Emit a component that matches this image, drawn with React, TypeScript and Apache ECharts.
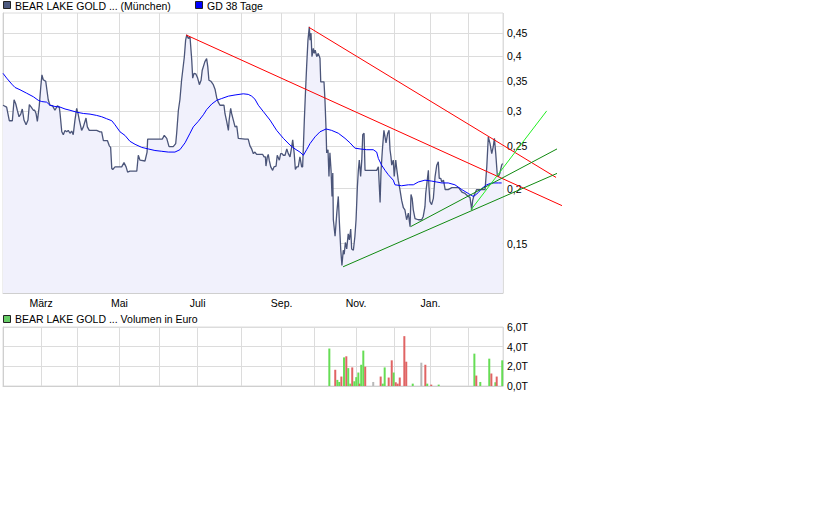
import React, { useEffect, useRef } from 'react';
import * as echarts from 'echarts';

const FONT = '"Liberation Sans", Arial, Helvetica, sans-serif';

// x axis: trading days of the period (0 .. 262)
const monthStarts = [0, 20, 39, 61, 82, 102, 125, 146, 163, 185, 205, 224, 244, 262];
const labelDays = [20, 61, 102, 146, 185, 224];
const labelNames = ['März', 'Mai', 'Juli', 'Sep.', 'Nov.', 'Jan.'];
const periodEnd = 262;
const trendEnd = 300; // trend lines are projected beyond the last day

// price axis ticks (log scale)
const priceTicks = [0.15, 0.2, 0.25, 0.3, 0.35, 0.4, 0.45];
const priceMin = 0.116;
const priceMax = 0.5;

// closing prices [day, EUR]
const price: [number, number][] = [
  [0, 0.309], [1.9, 0.306], [3.3, 0.285], [4.9, 0.285], [5.8, 0.318], [6.7, 0.311], [7.5, 0.301], [8.4, 0.291],
  [9.3, 0.295], [10.1, 0.303], [11.0, 0.286], [12.1, 0.279], [13.1, 0.286], [13.8, 0.31], [14.8, 0.306], [15.9, 0.301],
  [16.6, 0.301], [17.3, 0.296], [18.0, 0.284], [19.0, 0.308], [19.8, 0.34], [20.4, 0.362], [21.1, 0.353], [22.4, 0.35],
  [23.7, 0.318], [24.6, 0.309], [26.0, 0.308], [27.2, 0.301], [28.5, 0.308], [29.5, 0.306], [29.9, 0.296], [30.8, 0.269],
  [31.6, 0.265], [32.5, 0.271], [33.4, 0.269], [34.2, 0.271], [35.1, 0.267], [36.0, 0.27], [36.8, 0.265], [37.7, 0.286],
  [38.6, 0.304], [39.3, 0.296], [40.0, 0.286], [41.2, 0.271], [42.1, 0.276], [43.5, 0.289], [44.2, 0.276], [45.2, 0.271],
  [49.1, 0.271], [50.8, 0.269], [51.7, 0.269], [52.6, 0.257], [54.7, 0.257], [55.7, 0.25], [56.4, 0.248], [57.0, 0.222],
  [57.5, 0.221], [58.7, 0.224], [60.4, 0.224], [62.2, 0.224], [63.4, 0.229], [64.5, 0.224], [65.3, 0.218], [66.5, 0.219],
  [70.1, 0.219], [70.9, 0.238], [71.8, 0.232], [74.4, 0.231], [75.5, 0.242], [75.8, 0.259], [81.4, 0.259], [83.5, 0.259],
  [84.5, 0.264], [85.8, 0.26], [87.0, 0.249], [89.2, 0.249], [90.5, 0.253], [91.0, 0.267], [91.9, 0.301], [92.7, 0.318],
  [93.6, 0.353], [95.0, 0.397], [95.7, 0.434], [96.3, 0.446], [97.1, 0.438], [98.0, 0.441], [98.9, 0.391], [99.4, 0.356],
  [100.1, 0.365], [101.0, 0.364], [102.0, 0.356], [102.9, 0.344], [103.8, 0.352], [104.4, 0.371], [105.8, 0.388], [106.7, 0.394],
  [107.3, 0.378], [107.9, 0.352], [109.0, 0.35], [110.2, 0.344], [111.1, 0.336], [112.0, 0.321], [112.8, 0.314], [113.7, 0.309],
  [115.8, 0.309], [116.3, 0.296], [117.2, 0.284], [118.1, 0.271], [118.5, 0.286], [119.3, 0.304], [119.8, 0.296], [120.7, 0.286],
  [121.6, 0.276], [122.5, 0.277], [123.3, 0.26], [126.8, 0.259], [128.5, 0.259], [129.4, 0.25], [130.3, 0.246], [131.2, 0.24],
  [132.0, 0.242], [132.9, 0.239], [136.1, 0.239], [136.8, 0.236], [137.5, 0.236], [137.8, 0.225], [138.5, 0.236], [139.0, 0.239],
  [139.5, 0.232], [140.3, 0.224], [141.3, 0.22], [142.0, 0.224], [143.1, 0.225], [143.7, 0.238], [144.8, 0.232], [145.5, 0.24],
  [146.2, 0.24], [146.9, 0.238], [147.8, 0.238], [148.7, 0.246], [149.5, 0.24], [150.4, 0.236], [151.3, 0.249], [151.8, 0.258],
  [152.6, 0.24], [153.2, 0.221], [153.9, 0.224], [154.7, 0.224], [155.6, 0.236], [156.5, 0.224], [157.0, 0.224], [157.4, 0.249],
  [157.9, 0.286], [158.4, 0.323], [159.1, 0.378], [159.8, 0.434], [160.5, 0.465], [160.9, 0.434], [161.4, 0.45], [161.9, 0.398],
  [162.6, 0.416], [163.1, 0.405], [163.6, 0.412], [164.4, 0.398], [165.2, 0.405], [166.1, 0.395], [166.5, 0.349], [168.2, 0.349],
  [168.7, 0.318], [169.3, 0.271], [169.6, 0.241], [170.3, 0.245], [170.8, 0.213], [171.3, 0.241], [171.9, 0.22], [172.4, 0.192],
  [172.8, 0.217], [173.1, 0.17], [174.0, 0.156], [174.9, 0.176], [175.7, 0.192], [176.2, 0.17], [177.0, 0.145], [177.6, 0.134],
  [178.3, 0.145], [178.8, 0.142], [179.4, 0.151], [180.1, 0.146], [180.9, 0.158], [181.5, 0.153], [182.2, 0.162], [182.7, 0.146],
  [183.6, 0.145], [184.4, 0.156], [185.0, 0.17], [185.7, 0.202], [186.2, 0.22], [186.7, 0.232], [187.4, 0.213], [188.0, 0.232],
  [188.5, 0.265], [189.2, 0.267], [189.7, 0.22], [190.2, 0.22], [195.8, 0.22], [196.7, 0.224], [197.6, 0.186], [198.1, 0.22],
  [198.8, 0.245], [199.6, 0.271], [200.7, 0.254], [201.6, 0.267], [202.3, 0.271], [202.8, 0.245], [203.3, 0.236], [203.7, 0.226],
  [204.5, 0.232], [205.0, 0.213], [205.8, 0.232], [206.3, 0.222], [207.1, 0.209], [208.0, 0.199], [208.9, 0.188], [209.8, 0.181],
  [210.6, 0.179], [211.5, 0.17], [212.4, 0.176], [213.3, 0.164], [213.8, 0.194], [214.4, 0.19], [215.0, 0.179], [215.9, 0.171],
  [217.6, 0.17], [219.4, 0.17], [220.2, 0.173], [221.1, 0.182], [221.5, 0.195], [222.9, 0.22], [223.2, 0.202], [223.7, 0.187],
  [224.6, 0.184], [225.5, 0.19], [226.4, 0.213], [227.3, 0.226], [228.1, 0.23], [228.6, 0.211], [229.4, 0.211], [229.9, 0.207],
  [230.8, 0.209], [231.7, 0.199], [233.3, 0.199], [235.2, 0.201], [238.7, 0.201], [239.5, 0.199], [240.7, 0.196], [242.1, 0.195],
  [243.8, 0.192], [244.7, 0.191], [245.3, 0.183], [245.6, 0.179], [246.1, 0.188], [246.8, 0.193], [248.2, 0.199], [252.6, 0.199],
  [253.5, 0.224], [254.3, 0.262], [255.2, 0.253], [256.1, 0.24], [256.9, 0.249], [257.5, 0.26], [258.2, 0.24], [259.0, 0.215],
  [259.6, 0.213], [260.4, 0.217], [261.3, 0.226], [261.8, 0.228],
];

// 38-day moving average [day, EUR]
const ma38: [number, number][] = [
  [0, 0.365], [1.9, 0.356], [4.6, 0.345], [6.3, 0.339], [8.9, 0.335], [12.4, 0.329], [15.9, 0.323], [18.5, 0.317],
  [20.3, 0.315], [22.9, 0.314], [24.6, 0.309], [27.2, 0.307], [29.9, 0.306], [32.5, 0.303], [35.1, 0.301], [38.6, 0.298],
  [42.1, 0.296], [45.6, 0.295], [49.1, 0.293], [51.7, 0.291], [54.3, 0.288], [57.0, 0.285], [58.7, 0.279], [61.3, 0.269],
  [63.9, 0.264], [66.5, 0.256], [69.2, 0.252], [72.7, 0.248], [76.1, 0.246], [79.6, 0.244], [83.2, 0.243], [86.6, 0.242],
  [90.1, 0.242], [92.7, 0.245], [95.4, 0.254], [98.0, 0.267], [99.7, 0.276], [102.3, 0.284], [105.0, 0.294], [106.7, 0.302],
  [109.4, 0.311], [112.0, 0.317], [114.6, 0.32], [118.1, 0.324], [121.6, 0.326], [125.9, 0.328], [128.5, 0.327], [130.3, 0.324],
  [132.0, 0.319], [133.8, 0.309], [136.4, 0.299], [139.9, 0.286], [143.4, 0.271], [146.9, 0.26], [150.4, 0.251], [153.0, 0.246],
  [155.6, 0.242], [157.4, 0.238], [159.1, 0.245], [160.9, 0.253], [163.5, 0.262], [166.1, 0.269], [169.3, 0.273], [172.2, 0.271],
  [175.7, 0.267], [179.2, 0.26], [181.8, 0.254], [184.4, 0.247], [187.1, 0.246], [190.6, 0.245], [194.0, 0.245], [195.8, 0.242],
  [196.7, 0.234], [198.4, 0.226], [200.2, 0.22], [201.9, 0.215], [204.5, 0.209], [205.4, 0.204], [208.9, 0.203], [212.4, 0.204],
  [215.0, 0.204], [217.6, 0.207], [221.1, 0.209], [224.6, 0.208], [227.3, 0.207], [229.9, 0.206], [233.3, 0.206], [236.8, 0.204],
  [240.4, 0.199], [243.8, 0.195], [246.4, 0.192], [247.3, 0.193], [249.1, 0.196], [250.8, 0.2], [253.5, 0.204], [256.1, 0.206],
  [259.6, 0.206], [261.3, 0.206],
];

// trend lines [day, EUR] start and end
const redLow: [number, number][] = [[95.9, 0.446], [292.9, 0.183]];
const redHigh: [number, number][] = [[160.3, 0.464], [289.8, 0.212]];
const greenLow: [number, number][] = [[178.2, 0.133], [290.3, 0.2165]];
const greenHigh: [number, number][] = [[213.6, 0.164], [290.3, 0.246]];
const limeLine: [number, number][] = [[245.2, 0.179], [284.9, 0.3]];

// volume [day, thousand EUR, direction u/d/n]
const volume: [number, number, string][] = [
  [171.0, 3.81, 'u'], [174.1, 1.65, 'd'], [175.2, 0.62, 'u'], [176.2, 0.41, 'u'], [177.3, 0.96, 'd'], [178.7, 2.91, 'u'],
  [179.9, 3.02, 'd'], [180.9, 1.82, 'u'], [182.0, 0.24, 'u'], [183.0, 1.89, 'd'], [184.1, 0.48, 'u'], [185.1, 0.9, 'u'],
  [186.2, 1.37, 'u'], [186.9, 0.24, 'd'], [187.7, 2.16, 'u'], [188.8, 3.6, 'u'], [189.8, 1.96, 'd'], [194.0, 0.41, 'n'],
  [197.9, 0.96, 'd'], [199.0, 0.24, 'u'], [200.0, 1.89, 'u'], [202.1, 0.86, 'd'], [203.7, 2.61, 'd'], [204.7, 1.37, 'u'],
  [205.8, 0.38, 'd'], [206.8, 0.24, 'd'], [207.9, 0.86, 'd'], [210.3, 5.07, 'd'], [211.3, 2.47, 'd'], [214.7, 0.24, 'u'],
  [219.2, 2.37, 'n'], [221.3, 2.16, 'd'], [222.3, 0.24, 'u'], [224.4, 0.14, 'd'], [228.3, 0.14, 'u'], [247.0, 3.29, 'u'],
  [248.0, 1.06, 'd'], [250.1, 0.41, 'u'], [254.8, 2.78, 'u'], [255.9, 1.27, 'd'], [258.0, 0.38, 'u'], [258.7, 0.96, 'd'],
  [261.6, 2.61, 'u'],
];

const volColors: Record<string, string> = { u: '#66dd55', d: '#e06464', n: '#b8b8b8' };

export default function App() {
  const ref = useRef<HTMLDivElement>(null);

  useEffect(() => {
    if (!ref.current) return;
    const chart = echarts.init(ref.current, null, { renderer: 'svg' });
    const L = Math.log;
    const toLog = (arr: [number, number][]) => arr.map(([t, v]) => [t, L(v)]);
    const fmtPrice = (v: number) => String(Math.round(Math.exp(v) * 100) / 100).replace('.', ',');
    const fmtX = (v: number) => {
      const i = labelDays.indexOf(Math.round(v));
      return i >= 0 ? labelNames[i] : '';
    };
    const FS = 10.5;
    const gridLine = { show: true, lineStyle: { color: '#dcdcdc', width: 1, type: 'solid' as const } };
    const axisLine = { show: true, lineStyle: { color: '#cfcfcf', width: 1 } };
    const labelBase = { color: '#000', fontSize: FS, fontFamily: FONT };
    const plotW = 500;
    const trend = (data: [number, number][], color: string) => ({
      type: 'line',
      xAxisIndex: 2,
      yAxisIndex: 2,
      data: toLog(data),
      symbol: 'none',
      clip: false,
      silent: true,
      z: 5,
      lineStyle: { color, width: 1 },
    });
    const hiddenAxis = { show: false, axisLine: { show: false }, axisTick: { show: false }, axisLabel: { show: false }, splitLine: { show: false } };

    const option: any = {
      animation: false,
      backgroundColor: '#ffffff',
      textStyle: { fontFamily: FONT },
      grid: [
        { left: 3, top: 13, width: plotW, height: 280, show: true, borderColor: '#dcdcdc', borderWidth: 1, backgroundColor: 'transparent', outerBoundsMode: 'none', containLabel: false },
        { left: 3, top: 327, width: plotW, height: 59, show: true, borderColor: '#dcdcdc', borderWidth: 1, backgroundColor: 'transparent', outerBoundsMode: 'none', containLabel: false },
        // overlay grid with the same scale, extended to the right for projected trend lines
        { left: 3, top: 13, width: (plotW * trendEnd) / periodEnd, height: 280, show: false, outerBoundsMode: 'none', containLabel: false },
      ],
      xAxis: [
        {
          type: 'value', gridIndex: 0, min: 0, max: periodEnd, position: 'bottom',
          axisLine,
          axisTick: { show: false, customValues: monthStarts },
          axisLabel: { ...labelBase, customValues: labelDays, formatter: fmtX, margin: 4 },
          splitLine: gridLine,
        },
        {
          type: 'value', gridIndex: 1, min: 0, max: periodEnd, position: 'bottom',
          axisLine,
          axisTick: { show: false, customValues: monthStarts },
          axisLabel: { show: false },
          splitLine: gridLine,
        },
        { type: 'value', gridIndex: 2, min: 0, max: trendEnd, ...hiddenAxis },
      ],
      yAxis: [
        {
          type: 'value', gridIndex: 0, position: 'right', min: L(priceMin), max: L(priceMax),
          axisLine,
          axisTick: { show: false, customValues: priceTicks.map(L) },
          axisLabel: { ...labelBase, customValues: priceTicks.map(L), formatter: fmtPrice, margin: 4 },
          splitLine: gridLine,
        },
        {
          type: 'value', gridIndex: 1, position: 'right', min: 0, max: 6, interval: 2,
          axisLine,
          axisTick: { show: false },
          axisLabel: { ...labelBase, formatter: (v: number) => v.toFixed(1).replace('.', ',') + 'T', margin: 4 },
          splitLine: gridLine,
        },
        { type: 'value', gridIndex: 2, min: L(priceMin), max: L(priceMax), ...hiddenAxis },
      ],
      series: [
        {
          type: 'line', xAxisIndex: 0, yAxisIndex: 0, data: toLog(price), symbol: 'none', silent: true, z: 3,
          lineStyle: { color: '#4b5579', width: 1.3 },
          areaStyle: { color: '#f1f1fc', origin: 'start', opacity: 1 },
        },
        {
          type: 'line', xAxisIndex: 0, yAxisIndex: 0, data: toLog(ma38), symbol: 'none', silent: true, z: 4,
          lineStyle: { color: '#0000ff', width: 1 },
        },
        trend(redLow, '#ff0000'),
        trend(redHigh, '#ff0000'),
        trend(greenLow, '#108a10'),
        trend(greenHigh, '#108a10'),
        trend(limeLine, '#22ee22'),
        {
          type: 'bar', xAxisIndex: 1, yAxisIndex: 1, barWidth: 2, silent: true,
          data: volume.map(([t, v, d]) => ({ value: [t, v], itemStyle: { color: volColors[d] } })),
        },
      ],
      graphic: [
        { type: 'rect', shape: { x: 3.5, y: 1.5, width: 7, height: 7 }, style: { fill: '#4d5a80', stroke: '#222', lineWidth: 1 } },
        { type: 'text', x: 15, y: 5.5, style: { text: 'BEAR LAKE GOLD ... (München)', fill: '#000', font: `${FS}px ${FONT}`, verticalAlign: 'middle' } },
        { type: 'rect', shape: { x: 195.5, y: 1.5, width: 7, height: 7 }, style: { fill: '#0000ff', stroke: '#222', lineWidth: 1 } },
        { type: 'text', x: 207, y: 5.5, style: { text: 'GD 38 Tage', fill: '#000', font: `${FS}px ${FONT}`, verticalAlign: 'middle' } },
        { type: 'rect', shape: { x: 3.5, y: 315.5, width: 7, height: 7 }, style: { fill: '#66cc66', stroke: '#222', lineWidth: 1 } },
        { type: 'text', x: 15, y: 319, style: { text: 'BEAR LAKE GOLD ... Volumen in Euro', fill: '#000', font: `${FS}px ${FONT}`, verticalAlign: 'middle' } },
      ],
    };

    chart.setOption(option);
    return () => chart.dispose();
  }, []);

  return (
    <div
      ref={ref}
      style={{ position: 'absolute', left: 0, top: 0, width: 840, height: 525, background: '#fff' }}
    />
  );
}
